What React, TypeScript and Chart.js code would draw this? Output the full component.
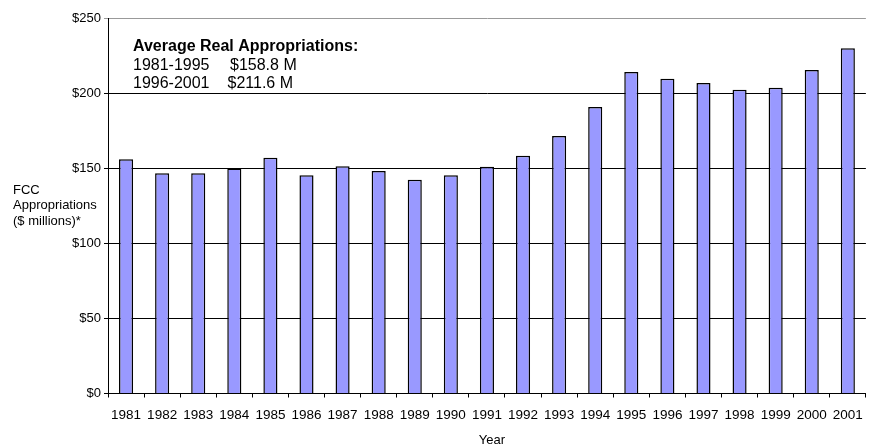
import React, { useEffect, useRef } from "react";
import { Chart, registerables } from "chart.js";

Chart.register(...registerables);

const years = ["1981", "1982", "1983", "1984", "1985", "1986", "1987", "1988", "1989", "1990", "1991", "1992", "1993", "1994", "1995", "1996", "1997", "1998", "1999", "2000", "2001"];
const appropriations = [156.1, 146.8, 146.8, 150.0, 157.2, 145.5, 151.5, 148.3, 142.5, 145.5, 151.2, 158.5, 171.7, 191.0, 214.3, 209.9, 207.0, 202.5, 203.9, 215.7, 230.1];
const yMin = 0;
const yMax = 250;
const yStep = 50;
const yTitleLines = ["FCC", "Appropriations", "($ millions)*"];
const xTitle = "Year";
const noteTitle = "Average Real Appropriations:";
const notePeriods = ["1981-1995", "1996-2001"];
const noteValues = ["$158.8 M", "$211.6 M"];

const FONT = "'Liberation Sans', Arial, sans-serif";

const textPlugin = {
  id: "textPlugin",
  afterDraw(chart: any) {
    const ctx = chart.ctx;
    ctx.save();
    ctx.fillStyle = "#000";
    ctx.textBaseline = "middle";
    ctx.textAlign = "left";
    ctx.font = `13px ${FONT}`;
    const yT = [190, 205.7, 221];
    yTitleLines.forEach((l, i) => ctx.fillText(l, 13, yT[i]));
    ctx.textAlign = "center";
    ctx.fillText(xTitle, 492, 440);
    ctx.textAlign = "left";
    ctx.font = `bold 16px ${FONT}`;
    ctx.fillText(noteTitle, 133, 46.5);
    ctx.font = `16px ${FONT}`;
    const ny = [66, 84];
    const vx = [230, 227.5];
    notePeriods.forEach((p, i) => {
      ctx.fillText(p, 133, ny[i]);
      ctx.fillText(noteValues[i], vx[i], ny[i]);
    });
    ctx.restore();
  },
};

export default function App() {
  const ref = useRef<HTMLCanvasElement>(null);
  useEffect(() => {
    document.body.style.margin = "0";
    const chart = new Chart(ref.current as HTMLCanvasElement, {
      type: "bar",
      data: {
        labels: years,
        datasets: [
          {
            data: appropriations,
            backgroundColor: "#9999FF",
            borderColor: "#000000",
            borderWidth: 1.5,
            barPercentage: 0.39,
            categoryPercentage: 1,
          },
        ],
      },
      options: {
        responsive: false,
        animation: false,
        layout: { padding: { top: 18.5, right: 6, left: 0, bottom: 0 } },
        plugins: { legend: { display: false }, tooltip: { enabled: false } },
        scales: {
          x: {
            offset: true,
            grid: {
              drawOnChartArea: false,
              drawTicks: true,
              tickLength: 4,
              color: "#000",
              offset: true,
            },
            border: { display: true, color: "#000", width: 1 },
            ticks: {
              color: "#000",
              font: { family: FONT, size: 13.5 },
              padding: 10,
              maxRotation: 0,
              autoSkip: false,
            },
            afterFit(scale: any) {
              scale.height = 53.5;
            },
          },
          y: {
            min: yMin,
            max: yMax,
            grid: {
              color: (c: any) => (c.tick && c.tick.value === yMax ? "#999" : "#000"),
              tickLength: 4,
              lineWidth: 1,
            },
            border: { display: true, color: "#000", width: 1 },
            ticks: {
              stepSize: yStep,
              color: "#000",
              font: { family: FONT, size: 13 },
              padding: 3,
              callback: (v: any) => "$" + v,
            },
            afterFit(scale: any) {
              scale.width = 108;
            },
          },
        },
      },
      plugins: [textPlugin],
    });
    return () => chart.destroy();
  }, []);
  return (
    <div style={{ position: "fixed", left: 0, top: 0 }}>
      <canvas ref={ref} width={873} height={447} style={{ width: 873, height: 447 }} />
    </div>
  );
}
